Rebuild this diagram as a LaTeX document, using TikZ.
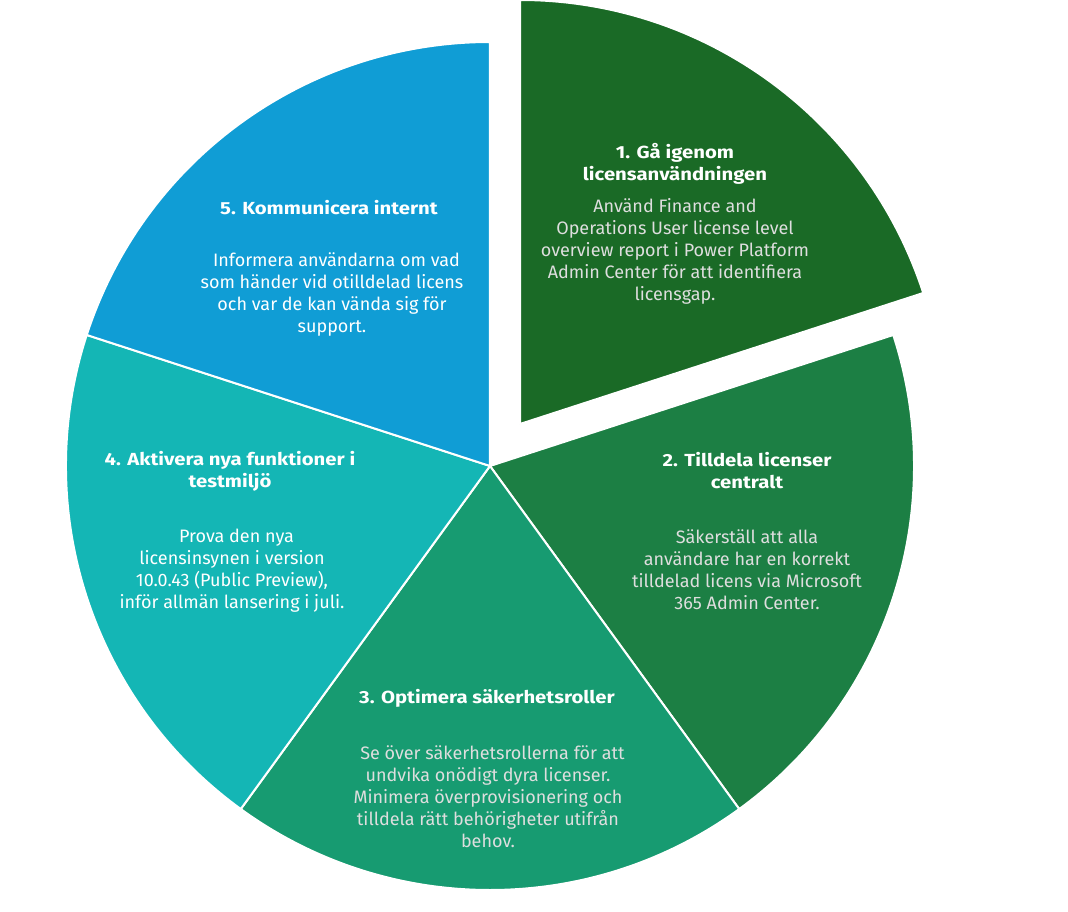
\documentclass[tikz,border=0pt]{standalone}
\usepackage{fontspec}
\setmainfont{Fira Sans}[BoldFeatures={FakeStretch=1.16}]
\definecolor{cA}{RGB}{26,106,38}
\definecolor{cB}{RGB}{28,127,68}
\definecolor{cC}{RGB}{23,155,113}
\definecolor{cD}{RGB}{20,182,181}
\definecolor{cE}{RGB}{16,157,213}
\definecolor{txtgray}{RGB}{222,222,222}
\begin{document}
\begin{tikzpicture}[x=1pt,y=1pt,
  sector/.style={draw=white,line width=2pt,line join=round},
  ttl/.style={text=white,font=\bfseries\fontsize{17.5}{22}\selectfont,align=center,inner sep=0pt},
  bdy/.style={font=\fontsize{18}{22}\selectfont,align=center,inner sep=0pt}]
\useasboundingbox (-490,466) rectangle (578,-445);
% sectors
\path[sector,fill=cA] (30,42) -- ++(90:424pt) arc[start angle=90,end angle=18,radius=424pt] -- cycle;
\path[sector,fill=cB] (0,0) -- (18:424pt) arc[start angle=18,end angle=-54,radius=424pt] -- cycle;
\path[sector,fill=cC] (0,0) -- (-54:424pt) arc[start angle=-54,end angle=-126,radius=424pt] -- cycle;
\path[sector,fill=cD] (0,0) -- (-126:424pt) arc[start angle=-126,end angle=-198,radius=424pt] -- cycle;
\path[sector,fill=cE] (0,0) -- (162:424pt) arc[start angle=162,end angle=90,radius=424pt] -- cycle;
% texts
\node[ttl] (t1) at (185,302) {1. Gå igenom\\licensanvändningen};
\node[bdy,text=txtgray] (b1) at (185,214.5) {Använd Finance and\\Operations User license level\\overview report i Power Platform\\Admin Center för att identifiera\\licensgap.};
\node[ttl] (t2) at (257,-5) {2. Tilldela licenser\\centralt};
\node[bdy,text=txtgray] (b2) at (257,-104) {Säkerställ att alla\\användare har en korrekt\\tilldelad licens via Microsoft\\365 Admin Center.};
\node[ttl] (t3) at (-3,-232) {3. Optimera säkerhetsroller};
\node[bdy,text=txtgray] (b3) at (-2,-330.5) {\hspace*{0.5em}Se över säkerhetsrollerna för att\\undvika onödigt dyra licenser.\\Minimera överprovisionering och\\tilldela rätt behörigheter utifrån\\behov.};
\node[ttl] (t4) at (-260,-5.5) {4. Aktivera nya funktioner i\\testmiljö};
\node[bdy,text=white] (b4) at (-258,-104.5) {\hspace*{0.5em}Prova den nya\\licensinsynen i version\\10.0.43 (Public Preview),\\inför allmän lansering i juli.};
\node[ttl] (t5) at (-161,258) {5. Kommunicera internt};
\node[bdy,text=white] (b5) at (-158,171) {\hspace*{0.5em}Informera användarna om vad\\som händer vid otilldelad licens\\och var de kan vända sig för\\support.};
\end{tikzpicture}
\end{document}
